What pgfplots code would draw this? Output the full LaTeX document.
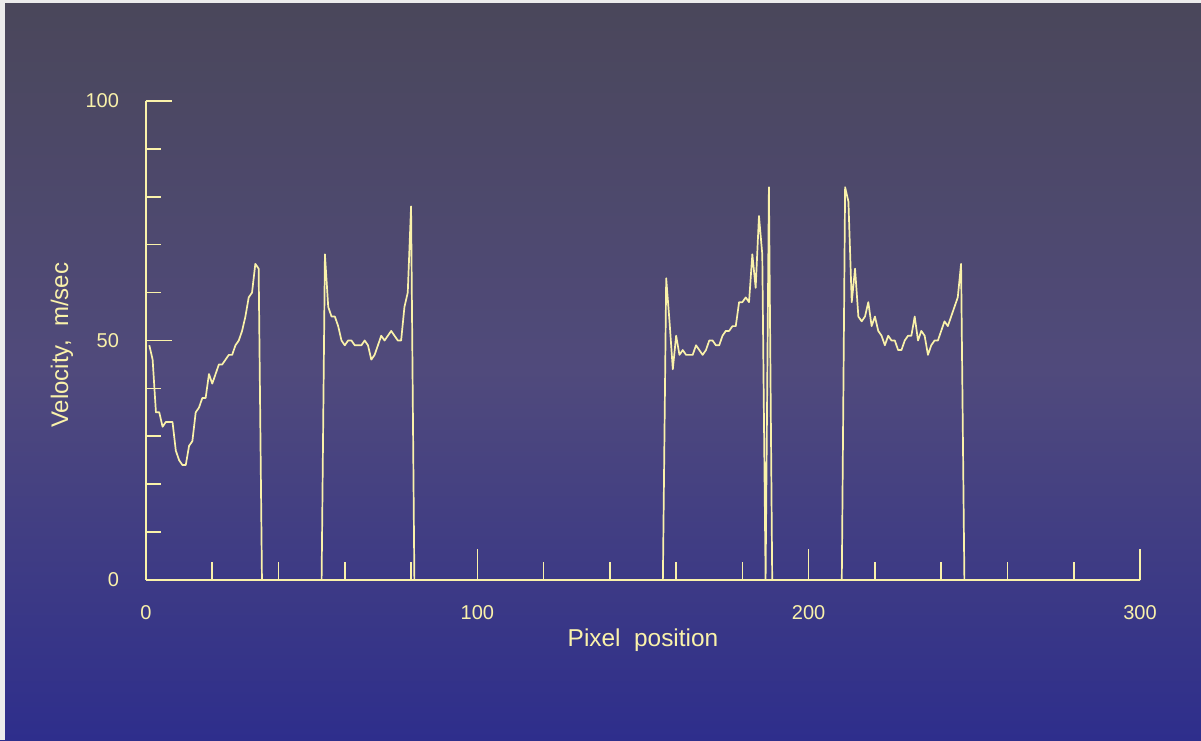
\documentclass[border=0pt]{standalone}
\usepackage{pgfplots}
\pgfplotsset{compat=1.18}
\usepackage{fontspec}
\setmainfont{Liberation Sans}
\definecolor{bgtop}{RGB}{74,71,90}
\definecolor{bgmid}{RGB}{80,74,124}
\definecolor{bgbot}{RGB}{46,46,140}
\definecolor{ln}{RGB}{250,242,170}
\begin{document}
\begin{tikzpicture}
\shade[top color=bgtop, bottom color=bgbot, middle color=bgmid] (0,0) rectangle (600.5pt,370pt);
\fill[gray!15] (0,0) rectangle (2.5pt,370pt);
\fill[gray!15] (0,368.5pt) rectangle (600.5pt,370pt);
\pgfplotsset{
  base/.style={
    scale only axis, width=497pt, height=239.5pt,
    at={(73pt,80pt)}, anchor=south west,
    xmin=0, xmax=300, ymin=0, ymax=100,
    axis x line*=bottom, axis y line*=left,
    axis line style={ln, line width=0.9pt, -},
    tick align=inside,
    every tick/.style={ln, line width=0.8pt},
    tick label style={font=\fontsize{10}{12}\selectfont, text=ln},
    /pgf/number format/assume math mode=true,
    clip=false,
  }
}
% x axis with ticks
\begin{axis}[base,
  xtick={0,100,200,300}, minor x tick num=4,
  major tick length=15.5pt, minor tick length=9pt,
  ytick=\empty,
  xticklabel style={yshift=-9pt},
  xlabel={Pixel\ \ position},
  xlabel style={at={(axis description cs:0.5,-0.125)}, anchor=center, font=\fontsize{12.2}{14}\selectfont, text=ln},
]
\addplot[ln, line width=0.85pt, line join=round] coordinates {
(1,49)(2,46)(3,35)(4,35)(5,32)(6,33)(7,33)(8,33)(9,27)(10,25)(11,24)(12,24)(13,28)(14,29)(15,35)(16,36)(17,38)(18,38)(19,43)(20,41)(21,43)(22,45)(23,45)(24,46)(25,47)(26,47)(27,49)(28,50)(29,52)(30,55)(31,59)(32,60)(33,66)(34,65)(35,0)
(53,0)(54,68)(55,57)(56,55)(57,55)(58,53)(59,50)(60,49)(61,50)(62,50)(63,49)(64,49)(65,49)(66,50)(67,49)(68,46)(69,47)(70,49)(71,51)(72,50)(73,51)(74,52)(75,51)(76,50)(77,50)(78,57)(79,60)(80,78)(81,0)
(156,0)(157,63)(158,54)(159,44)(160,51)(161,47)(162,48)(163,47)(164,47)(165,47)(166,49)(167,48)(168,47)(169,48)(170,50)(171,50)(172,49)(173,49)(174,51)(175,52)(176,52)(177,53)(178,53)(179,58)(180,58)(181,59)(182,58)(183,68)(184,61)(185,76)(186,68)(187,0)(188,82)(189,0)
(210,0)(211,82)(212,79)(213,58)(214,65)(215,55)(216,54)(217,55)(218,58)(219,53)(220,55)(221,52)(222,51)(223,49)(224,51)(225,50)(226,50)(227,48)(228,48)(229,50)(230,51)(231,51)(232,55)(233,50)(234,52)(235,51)(236,47)(237,49)(238,50)(239,50)(240,52)(241,54)(242,53)(243,55)(244,57)(245,59)(246,66)(247,0)(300,0)
};
\end{axis}
% y axis with ticks
\begin{axis}[base,
  ytick={0,50,100}, minor y tick num=4,
  major tick length=13pt, minor tick length=7.3pt,
  xtick=\empty,
  yticklabel style={xshift=-10pt},
  ylabel={Velocity,\ \ m/sec},
  ylabel style={at={(axis description cs:-0.0845,0.49)}, anchor=center, rotate=0, font=\fontsize{12}{14}\selectfont, text=ln},
]
\end{axis}
\end{tikzpicture}
\end{document}
